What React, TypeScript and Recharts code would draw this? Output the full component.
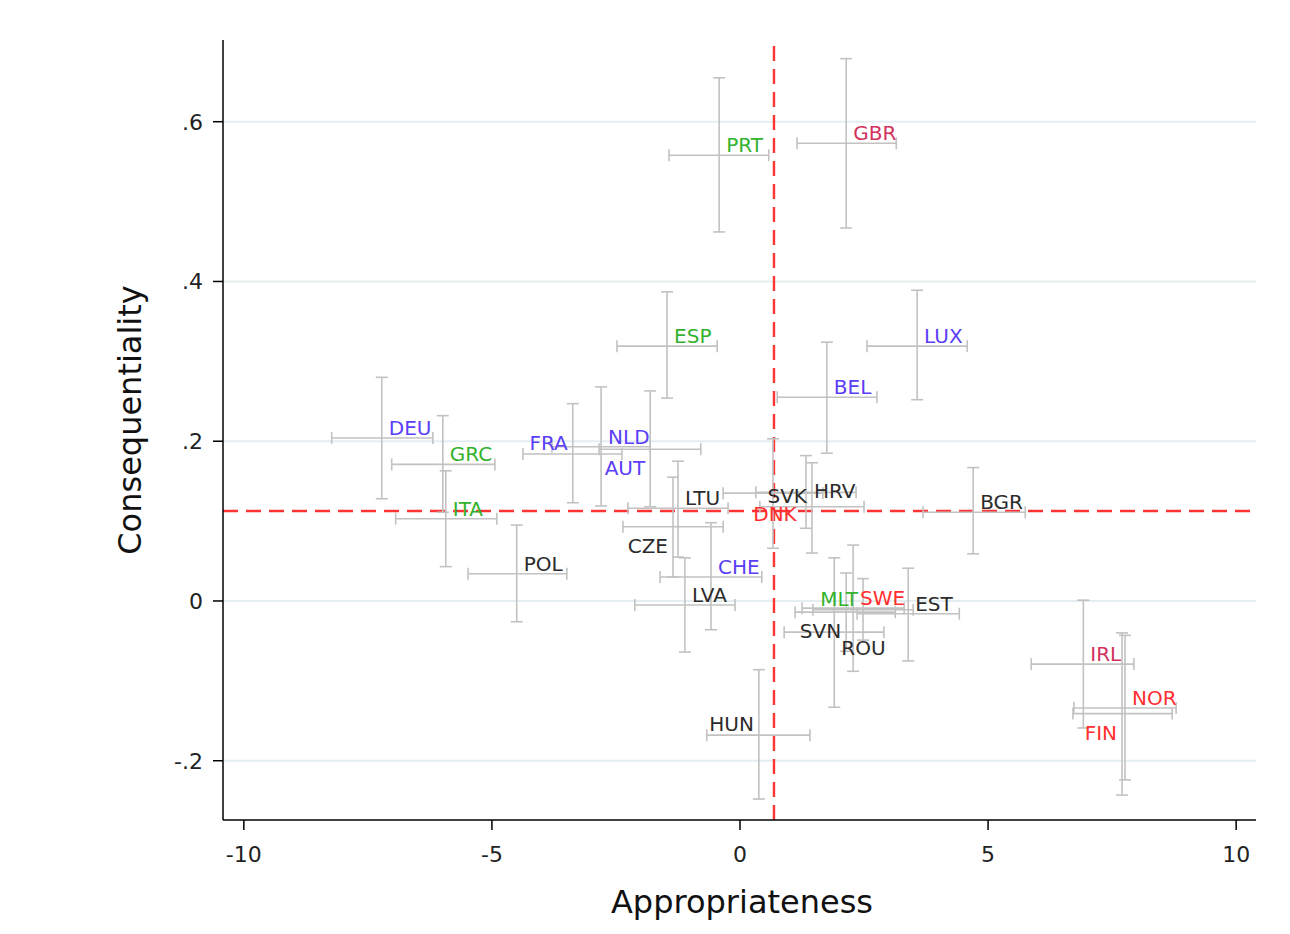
import React from "react";
import {
  ScatterChart,
  Scatter,
  XAxis,
  YAxis,
  ErrorBar,
  ReferenceLine,
  Label,
} from "recharts";

// ---------- data ----------
const countries = [
  "PRT", "GBR", "ESP", "LUX", "BEL", "DEU", "GRC", "FRA", "NLD", "AUT",
  "ITA", "LTU", "SVK", "HRV", "DNK", "BGR", "CZE", "POL", "CHE", "LVA",
  "MLT", "SWE", "SVN", "EST", "ROU", "IRL", "NOR", "FIN", "HUN",
];
const appropriateness = [
  -0.42, 2.14, -1.47, 3.57, 1.75, -7.22, -5.99, -3.37, -2.8, -1.81,
  -5.93, -1.25, 1.45, 1.33, 0.665, 4.7, -1.35, -4.5, -0.585, -1.11,
  2.48, 2.28, 2.14, 3.39, 1.9, 6.92, 7.76, 7.7, 0.38,
];
const appropriatenessLow = [
  -1.43, 1.15, -2.48, 2.56, 0.75, -8.23, -7.02, -4.375, -3.79, -2.84,
  -6.94, -2.26, 0.4, 0.32, -0.34, 3.69, -2.36, -5.48, -1.61, -2.12,
  1.47, 1.25, 1.11, 2.36, 0.89, 5.87, 6.73, 6.71, -0.67,
];
const appropriatenessHigh = [
  0.58, 3.15, -0.46, 4.58, 2.76, -6.19, -4.94, -2.38, -1.81, -0.79,
  -4.9, -0.24, 2.5, 2.34, 1.67, 5.75, -0.34, -3.49, 0.44, -0.1,
  3.49, 3.31, 3.13, 4.42, 2.9, 7.94, 8.79, 8.71, 1.41,
];
const consequentiality = [
  0.558, 0.573, 0.319, 0.319, 0.255, 0.204, 0.171, 0.184, 0.193, 0.19,
  0.103, 0.116, 0.118, 0.136, 0.135, 0.111, 0.093, 0.034, 0.03, -0.005,
  -0.011, -0.009, -0.014, -0.016, -0.039, -0.079, -0.134, -0.141, -0.168,
];
const consequentialityLow = [
  0.462, 0.467, 0.254, 0.252, 0.185, 0.128, 0.111, 0.123, 0.119, 0.118,
  0.043, 0.055, 0.06, 0.091, 0.066, 0.059, 0.03, -0.026, -0.036, -0.064,
  -0.049, -0.088, -0.063, -0.075, -0.133, -0.159, -0.224, -0.243, -0.248,
];
const consequentialityHigh = [
  0.655, 0.679, 0.387, 0.389, 0.324, 0.28, 0.232, 0.247, 0.268, 0.263,
  0.163, 0.175, 0.173, 0.182, 0.203, 0.167, 0.155, 0.095, 0.098, 0.054,
  0.028, 0.07, 0.035, 0.041, 0.054, 0.001, -0.043, -0.04, -0.086,
];
const regimes = [
  "south", "anglo", "south", "cont", "cont", "cont", "south", "cont", "cont", "cont",
  "south", "east", "east", "east", "nordic", "east", "east", "east", "cont", "east",
  "south", "nordic", "east", "east", "east", "anglo", "nordic", "nordic", "east",
];
// marker label clock position (as in Stata's mlabvposition)
const labelClock = [
  2, 2, 2, 2, 2, 2, 2, 11, 2, 7,
  2, 2, 11, 3, 6, 2, 7, 2, 2, 2,
  11, 2, 7, 2, 4, 2, 2, 7, 11,
];
const meanAppropriateness = 0.685;
const meanConsequentiality = 0.1127;

const xTicks = [-10, -5, 0, 5, 10];
const yTicks = [-0.2, 0, 0.2, 0.4, 0.6];
const yTickLabels = ["-.2", "0", ".2", ".4", ".6"];

// ---------- styles ----------
const regimeColors: Record<string, string> = {
  south: "#33b22e",
  anglo: "#d2325e",
  cont: "#5a3ef8",
  nordic: "#ff2f2f",
  east: "#2b2b2b",
};
const FONT = "'DejaVu Sans', sans-serif";

const rows = countries.map((code, i) => ({
  code,
  x: appropriateness[i],
  y: consequentiality[i],
  xErr: [appropriateness[i] - appropriatenessLow[i], appropriatenessHigh[i] - appropriateness[i]],
  yErr: [consequentiality[i] - consequentialityLow[i], consequentialityHigh[i] - consequentiality[i]],
  regime: regimes[i],
  clock: labelClock[i],
}));

const CountryLabel = (props: any) => {
  const { cx, cy, payload } = props;
  if (cx == null || cy == null) return null;
  let x = cx;
  let y = cy;
  let anchor: "start" | "end" | "middle" = "start";
  switch (payload.clock) {
    case 11:
      x = cx - 5; y = cy - 4; anchor = "end"; break;
    case 7:
      x = cx - 5; y = cy + 26; anchor = "end"; break;
    case 4:
      x = cx + 7; y = cy + 23; anchor = "start"; break;
    case 3:
      x = cx + 8; y = cy + 6; anchor = "start"; break;
    case 6:
      x = cx + 2; y = cy + 28; anchor = "middle"; break;
    default:
      x = cx + 7; y = cy - 3; anchor = "start";
  }
  return (
    <text
      x={x}
      y={y}
      textAnchor={anchor}
      fill={regimeColors[payload.regime]}
      fontSize={20}
      fontFamily={FONT}
    >
      {payload.code}
    </text>
  );
};

export default function App() {
  return (
    <div style={{ position: "absolute", left: 0, top: 0, background: "#fff" }}>
      <ScatterChart
        width={1290}
        height={934}
        margin={{ top: 40, right: 34, bottom: 0, left: 0 }}
      >
        {yTicks.map((t) => (
          <ReferenceLine key={`g${t}`} y={t} stroke="#e4edf0" strokeWidth={2} />
        ))}
        <XAxis
          type="number"
          dataKey="x"
          domain={[-10.42, 10.4]}
          ticks={xTicks}
          allowDataOverflow
          height={114}
          tickSize={10}
          tickMargin={16}
          axisLine={{ stroke: "#000", strokeWidth: 1.5 }}
          tickLine={{ stroke: "#000", strokeWidth: 1.5 }}
          tick={{ fill: "#222", fontSize: 22, fontFamily: FONT }}
        >
          <Label
            content={() => (
              <text
                x={742}
                y={913}
                textAnchor="middle"
                fill="#111"
                fontSize={32}
                fontFamily={FONT}
              >
                Appropriateness
              </text>
            )}
          />
        </XAxis>
        <YAxis
          type="number"
          dataKey="y"
          domain={[-0.2742, 0.7023]}
          ticks={yTicks}
          allowDataOverflow
          width={223}
          tickSize={10}
          tickMargin={10}
          tickFormatter={(v: number) => yTickLabels[yTicks.findIndex((t) => Math.abs(t - v) < 1e-9)] ?? String(v)}
          axisLine={{ stroke: "#000", strokeWidth: 1.5 }}
          tickLine={{ stroke: "#000", strokeWidth: 1.5 }}
          tick={{ fill: "#222", fontSize: 22, fontFamily: FONT }}
        >
          <Label
            content={() => (
              <text
                x={141}
                y={420}
                transform="rotate(-90 141 420)"
                textAnchor="middle"
                fill="#111"
                fontSize={32}
                fontFamily={FONT}
              >
                Consequentiality
              </text>
            )}
          />
        </YAxis>
        <ReferenceLine
          x={meanAppropriateness}
          stroke="#ff3535"
          strokeWidth={2.4}
          strokeDasharray="15 8"
        />
        <ReferenceLine
          y={meanConsequentiality}
          stroke="#ff3535"
          strokeWidth={2.4}
          strokeDasharray="15 8"
        />
        <Scatter data={rows} isAnimationActive={false} shape={<CountryLabel />}>
          <ErrorBar dataKey="xErr" direction="x" width={6} stroke="#c2c2c2" strokeWidth={1.6} />
          <ErrorBar dataKey="yErr" direction="y" width={6} stroke="#c2c2c2" strokeWidth={1.6} />
        </Scatter>
      </ScatterChart>
    </div>
  );
}
